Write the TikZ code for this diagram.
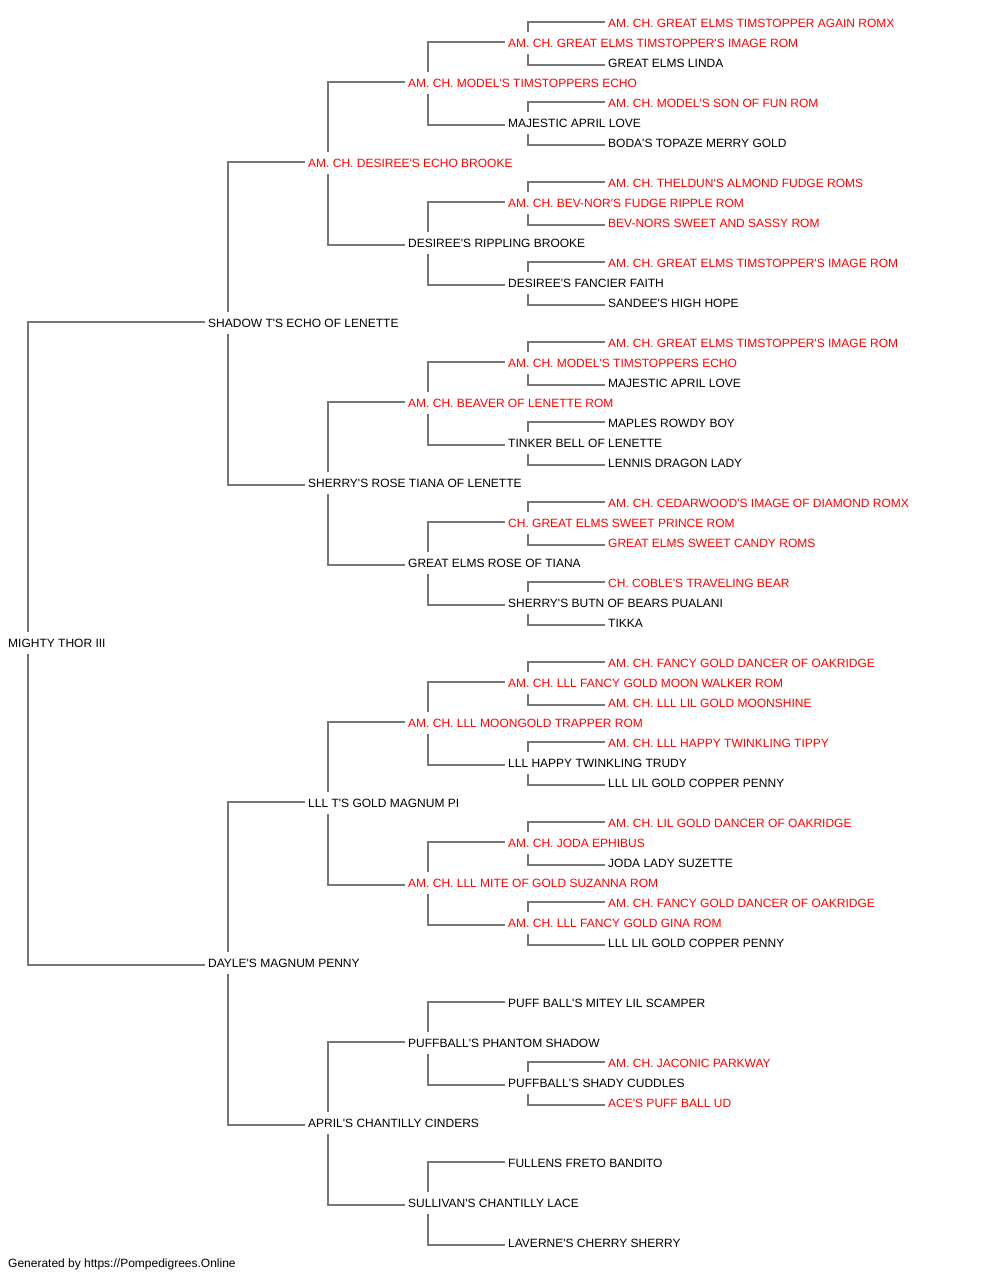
\documentclass[tikz,border=0pt]{standalone}
\usepackage{fontspec}
\setmainfont{Liberation Sans}[Ligatures=TeXOff]
\usetikzlibrary{calc}
\definecolor{pedred}{RGB}{255,0,0}
\definecolor{pedtxt}{RGB}{0,0,0}
\definecolor{pedline}{RGB}{118,118,118}
\begin{document}
\begin{tikzpicture}[x=1pt,y=-1pt,
  ped/.style={anchor=west,inner sep=0pt,text height=8.6pt,text depth=0pt,font=\fontsize{12}{14}\selectfont,text=pedtxt},
  pedr/.style={ped,text=pedred},
  conn/.style={draw=pedline,line width=2pt}]
\useasboundingbox (0,0) rectangle (1000,1280);
\foreach \k/\x/\s/\t in {
 0/608/pedr/{AM. CH. GREAT ELMS TIMSTOPPER AGAIN ROMX},
 1/508/pedr/{AM. CH. GREAT ELMS TIMSTOPPER'S IMAGE ROM},
 2/608/ped/{GREAT ELMS LINDA},
 3/408/pedr/{AM. CH. MODEL'S TIMSTOPPERS ECHO},
 4/608/pedr/{AM. CH. MODEL'S SON OF FUN ROM},
 5/508/ped/{MAJESTIC APRIL LOVE},
 6/608/ped/{BODA'S TOPAZE MERRY GOLD},
 7/308/pedr/{AM. CH. DESIREE'S ECHO BROOKE},
 8/608/pedr/{AM. CH. THELDUN'S ALMOND FUDGE ROMS},
 9/508/pedr/{AM. CH. BEV-NOR'S FUDGE RIPPLE ROM},
 10/608/pedr/{BEV-NORS SWEET AND SASSY ROM},
 11/408/ped/{DESIREE'S RIPPLING BROOKE},
 12/608/pedr/{AM. CH. GREAT ELMS TIMSTOPPER'S IMAGE ROM},
 13/508/ped/{DESIREE'S FANCIER FAITH},
 14/608/ped/{SANDEE'S HIGH HOPE},
 15/208/ped/{SHADOW T'S ECHO OF LENETTE},
 16/608/pedr/{AM. CH. GREAT ELMS TIMSTOPPER'S IMAGE ROM},
 17/508/pedr/{AM. CH. MODEL'S TIMSTOPPERS ECHO},
 18/608/ped/{MAJESTIC APRIL LOVE},
 19/408/pedr/{AM. CH. BEAVER OF LENETTE ROM},
 20/608/ped/{MAPLES ROWDY BOY},
 21/508/ped/{TINKER BELL OF LENETTE},
 22/608/ped/{LENNIS DRAGON LADY},
 23/308/ped/{SHERRY'S ROSE TIANA OF LENETTE},
 24/608/pedr/{AM. CH. CEDARWOOD'S IMAGE OF DIAMOND ROMX},
 25/508/pedr/{CH. GREAT ELMS SWEET PRINCE ROM},
 26/608/pedr/{GREAT ELMS SWEET CANDY ROMS},
 27/408/ped/{GREAT ELMS ROSE OF TIANA},
 28/608/pedr/{CH. COBLE'S TRAVELING BEAR},
 29/508/ped/{SHERRY'S BUTN OF BEARS PUALANI},
 30/608/ped/{TIKKA},
 31/8/ped/{MIGHTY THOR III},
 32/608/pedr/{AM. CH. FANCY GOLD DANCER OF OAKRIDGE},
 33/508/pedr/{AM. CH. LLL FANCY GOLD MOON WALKER ROM},
 34/608/pedr/{AM. CH. LLL LIL GOLD MOONSHINE},
 35/408/pedr/{AM. CH. LLL MOONGOLD TRAPPER ROM},
 36/608/pedr/{AM. CH. LLL HAPPY TWINKLING TIPPY},
 37/508/ped/{LLL HAPPY TWINKLING TRUDY},
 38/608/ped/{LLL LIL GOLD COPPER PENNY},
 39/308/ped/{LLL T'S GOLD MAGNUM PI},
 40/608/pedr/{AM. CH. LIL GOLD DANCER OF OAKRIDGE},
 41/508/pedr/{AM. CH. JODA EPHIBUS},
 42/608/ped/{JODA LADY SUZETTE},
 43/408/pedr/{AM. CH. LLL MITE OF GOLD SUZANNA ROM},
 44/608/pedr/{AM. CH. FANCY GOLD DANCER OF OAKRIDGE},
 45/508/pedr/{AM. CH. LLL FANCY GOLD GINA ROM},
 46/608/ped/{LLL LIL GOLD COPPER PENNY},
 47/208/ped/{DAYLE'S MAGNUM PENNY},
 49/508/ped/{PUFF BALL'S MITEY LIL SCAMPER},
 51/408/ped/{PUFFBALL'S PHANTOM SHADOW},
 52/608/pedr/{AM. CH. JACONIC PARKWAY},
 53/508/ped/{PUFFBALL'S SHADY CUDDLES},
 54/608/pedr/{ACE'S PUFF BALL UD},
 55/308/ped/{APRIL'S CHANTILLY CINDERS},
 57/508/ped/{FULLENS FRETO BANDITO},
 59/408/ped/{SULLIVAN'S CHANTILLY LACE},
 61/508/ped/{LAVERNE'S CHERRY SHERRY}}
 {\node[\s] (n\k) at (\x,{23.3+20*\k}) {\t};}
\node[ped] (footer) at (8,1263.3) {Generated by https://Pompedigrees.Online};
\foreach \p/\a/\b in {31/15/47,15/7/23,47/39/55,7/3/11,23/19/27,39/35/43,55/51/59,
  3/1/5,11/9/13,19/17/21,27/25/29,35/33/37,43/41/45,51/49/53,59/57/61,
  1/0/2,5/4/6,9/8/10,13/12/14,17/16/18,21/20/22,25/24/26,29/28/30,
  33/32/34,37/36/38,41/40/42,45/44/46,53/52/54}
{\draw[conn] ($(n\a.west)+(-3,-1)$) -| ($(n\p.west)+(20,-11)$);
 \draw[conn] ($(n\b.west)+(-3,1.5)$) -| ($(n\p.west)+(20,11)$);}
\end{tikzpicture}
\end{document}
